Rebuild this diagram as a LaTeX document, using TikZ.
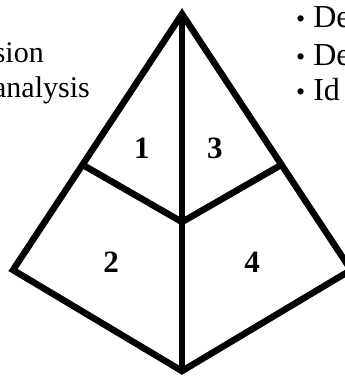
\documentclass[tikz,border=0pt]{standalone}
\usepackage{fontspec}
\setmainfont{Liberation Serif}
\usetikzlibrary{positioning}

\newcommand{\dotmark}{{\fontsize{26}{26}\selectfont\textbullet}\hspace{8pt}}

\begin{document}
\begin{tikzpicture}[
  x=1pt,y=-1pt,
  font=\fontsize{32}{38}\selectfont,
  edge/.style={draw,line width=6.5pt},
  part/.style={font=\fontsize{31}{36}\selectfont\bfseries},
  sidetext/.style={inner sep=0pt},
  lefttext/.style={sidetext,anchor=base east,font=\fontsize{30}{36}\selectfont},
  righttext/.style={sidetext,anchor=base west},
]
  \useasboundingbox (0,0) rectangle (345,376);
  \clip (0,0) rectangle (345,376);

  \coordinate (apex) at (182,14);
  \coordinate (west) at (13,270);
  \coordinate (east) at (351,270);
  \coordinate (foot) at (182,371);
  \coordinate (mid)  at (182,222);
  \coordinate (wjoin) at (83,165);
  \coordinate (ejoin) at (281,165);

  \draw[edge] (apex) -- (west) -- (foot) -- (east) -- cycle;
  \draw[edge] (apex) -- (foot);
  \draw[edge] (wjoin) -- (mid) -- (ejoin);

  \node[part] (p1) at (142,148) {1};
  \node[part] (p3) at (215,148) {3};
  \node[part] (p2) at (111,262) {2};
  \node[part] (p4) at (252,262) {4};

  % text running off the edges
  \node[lefttext] (l1) at (44,62) {sion};
  \node[lefttext] (l2) at (90,97) {analysis};

  \node[righttext] (r1) at (296,27) {\dotmark De};
  \node[righttext] (r2) at (296,65) {\dotmark De};
  \node[righttext] (r3) at (296,100) {\dotmark Id};
\end{tikzpicture}
\end{document}
